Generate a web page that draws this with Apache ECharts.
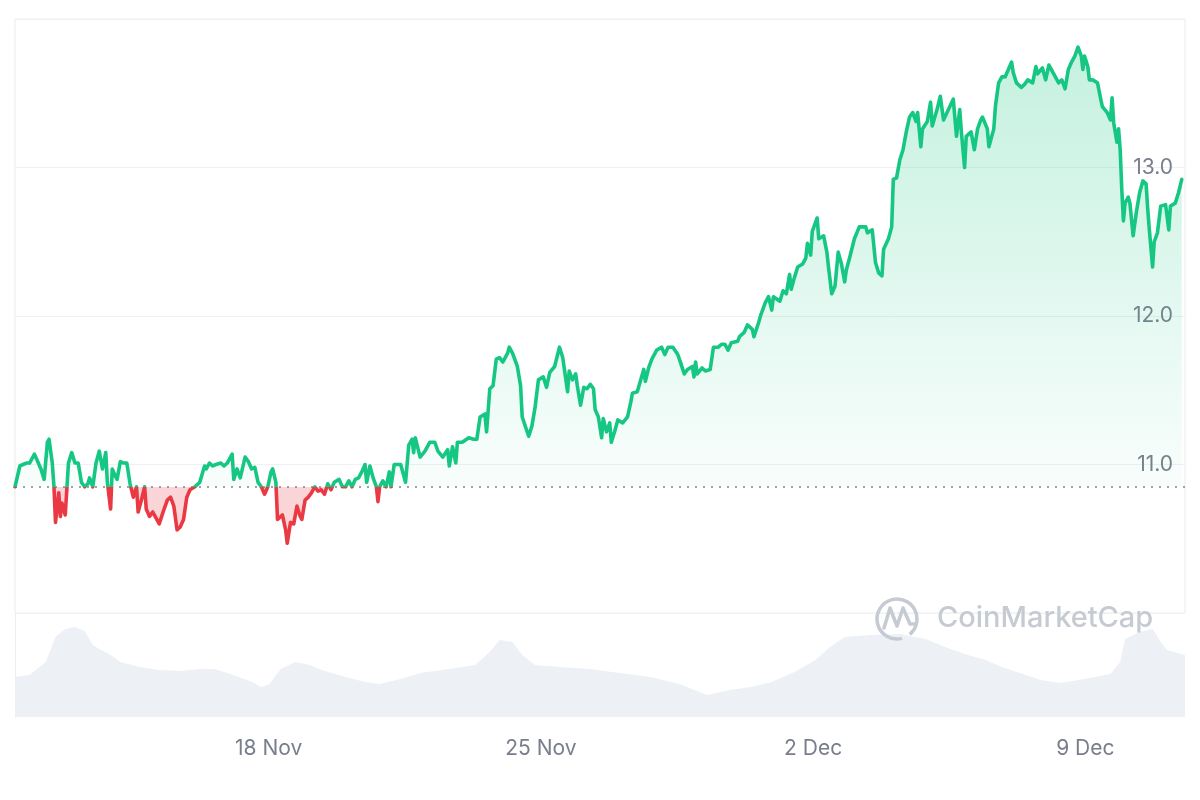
<!DOCTYPE html>
<html>
<head>
<meta charset="utf-8">
<script src="https://cdn.jsdelivr.net/npm/echarts@6/dist/echarts.min.js"></script>
<style>
html,body{margin:0;padding:0;background:#ffffff;}
#chart{width:1200px;height:800px;}
</style>
</head>
<body>
<div id="chart"></div>
<script>
// ---- data ----
const startTime = Date.UTC(2024, 10, 11, 11, 30); // first sample (hour 0)
const spanHours = 722;
// [hours since start, price USD]
const priceSeries = [
[0,10.85],[3,10.99],[5,11.00],[7,11.01],[9,11.01],[11,11.05],[12,11.07],[14,11.02],[16,10.97],[18,10.90],
[20,11.15],[21,11.17],[23,11.01],[24,10.86],[25,10.61],[27,10.81],[28,10.65],[29,10.74],[31,10.66],[33,11.01],
[35,11.08],[37,11.01],[39,11.01],[41,10.88],[43,10.85],[45,10.87],[46,10.91],[48,10.85],[50,11.01],[52,11.09],
[54,10.97],[56,11.08],[57,10.88],[59,10.70],[60,10.97],[62,10.92],[63,10.90],[65,11.02],[67,11.01],[69,11.01],
[71,10.87],[73,10.78],[75,10.85],[76,10.68],[78,10.76],[80,10.85],[81,10.70],[83,10.65],[85,10.68],[87,10.64],
[89,10.60],[92,10.70],[94,10.76],[96,10.78],[98,10.72],[100,10.56],[102,10.58],[104,10.63],[106,10.78],[108,10.83],
[111,10.85],[114,10.88],[117,10.99],[118,10.97],[120,11.01],[122,10.99],[124,11.00],[127,11.01],[129,10.99],[131,11.01],
[133,11.05],[134,11.07],[135,10.90],[137,10.97],[139,10.91],[142,11.05],[144,11.02],[146,10.97],[148,10.98],[150,10.88],
[152,10.85],[154,10.80],[156,10.85],[158,10.95],[159,10.97],[161,10.88],[162,10.63],[165,10.66],[167,10.56],[168,10.47],
[170,10.61],[172,10.60],[174,10.72],[176,10.65],[177,10.63],[179,10.76],[181,10.78],[183,10.81],[185,10.85],[187,10.82],
[189,10.83],[191,10.80],[193,10.87],[195,10.83],[197,10.88],[200,10.90],[202,10.85],[204,10.85],[206,10.89],[208,10.85],
[210,10.90],[212,10.91],[214,10.95],[216,11.00],[217,10.88],[219,10.99],[221,10.91],[223,10.85],[224,10.75],[225,10.85],
[227,10.89],[229,10.85],[231,10.95],[232,10.85],[234,11.00],[238,11.00],[241,10.88],[243,11.13],[245,11.17],[246,11.08],
[247,11.18],[250,11.05],[253,11.09],[256,11.15],[259,11.15],[261,11.09],[264,11.05],[267,11.10],[268,10.99],[270,11.12],
[272,11.01],[273,11.15],[276,11.15],[280,11.18],[283,11.17],[285,11.17],[287,11.32],[290,11.34],[291,11.22],[293,11.51],
[295,11.53],[297,11.71],[299,11.72],[301,11.69],[304,11.75],[305,11.79],[307,11.75],[310,11.66],[312,11.53],[313,11.32],
[317,11.19],[319,11.26],[321,11.39],[323,11.57],[326,11.59],[328,11.52],[330,11.62],[333,11.66],[336,11.79],[338,11.72],
[341,11.49],[342,11.63],[344,11.57],[346,11.61],[347,11.53],[349,11.40],[351,11.52],[353,11.51],[355,11.54],[357,11.51],
[358,11.37],[360,11.32],[362,11.18],[363,11.31],[365,11.22],[367,11.28],[368,11.15],[370,11.22],[372,11.30],[375,11.28],
[378,11.32],[380,11.42],[381,11.48],[384,11.49],[388,11.64],[389,11.56],[391,11.65],[393,11.71],[396,11.77],[399,11.79],
[401,11.74],[403,11.79],[406,11.79],[409,11.74],[410,11.71],[413,11.61],[415,11.64],[418,11.66],[419,11.59],[420,11.69],
[421,11.61],[424,11.65],[426,11.63],[429,11.64],[431,11.79],[434,11.79],[436,11.81],[438,11.81],[440,11.77],[442,11.82],
[446,11.83],[447,11.86],[450,11.89],[452,11.94],[455,11.91],[456,11.86],[459,11.96],[460,12.00],[463,12.09],[465,12.13],
[467,12.04],[468,12.13],[472,12.10],[474,12.17],[476,12.15],[478,12.28],[479,12.18],[481,12.26],[483,12.33],[486,12.35],
[488,12.39],[489,12.49],[491,12.41],[492,12.57],[494,12.63],[495,12.66],[496,12.52],[499,12.54],[501,12.43],[502,12.33],
[504,12.15],[506,12.20],[508,12.43],[510,12.35],[512,12.23],[513,12.31],[515,12.39],[518,12.52],[521,12.60],[525,12.60],
[526,12.56],[529,12.58],[531,12.36],[533,12.29],[535,12.27],[536,12.45],[539,12.52],[541,12.60],[542,12.92],[544,12.93],
[546,13.05],[548,13.12],[550,13.24],[552,13.34],[554,13.37],[556,13.31],[557,13.37],[559,13.14],[560,13.26],[563,13.31],
[565,13.44],[566,13.28],[569,13.39],[571,13.48],[573,13.32],[576,13.39],[579,13.46],[581,13.21],[583,13.39],[584,13.24],
[586,13.00],[587,13.21],[590,13.24],[592,13.12],[594,13.26],[596,13.32],[597,13.34],[600,13.26],[601,13.14],[604,13.26],
[605,13.41],[607,13.57],[609,13.61],[611,13.61],[613,13.66],[615,13.71],[616,13.64],[618,13.57],[621,13.54],[623,13.56],
[625,13.59],[628,13.57],[630,13.68],[631,13.63],[634,13.67],[636,13.59],[638,13.69],[641,13.63],[644,13.57],[646,13.59],
[648,13.53],[650,13.66],[652,13.71],[654,13.75],[656,13.81],[658,13.75],[659,13.66],[660,13.75],[662,13.68],[663,13.59],
[665,13.59],[668,13.57],[670,13.46],[671,13.41],[674,13.37],[676,13.32],[677,13.47],[678,13.30],[680,13.17],[681,13.26],
[682,13.12],[683,12.85],[684,12.64],[685,12.76],[687,12.80],[688,12.76],[690,12.54],[692,12.70],[694,12.83],[696,12.91],
[698,12.89],[699,12.72],[700,12.58],[702,12.33],[703,12.50],[705,12.56],[707,12.74],[710,12.75],[712,12.58],[713,12.74],
[716,12.76],[718,12.83],[720,12.92]
];
// [hours since start, volume (M USD)]
const volumeSeries = [
[0,40],[9,42],[19,55],[25,80],[31,88],[37,90],[43,86],[48,72],[52,68],[59,62],[65,55],[77,50],[89,47],[102,46],
[114,48],[123,48],[133,43],[145,36],[152,30],[157,33],[164,48],[173,55],[182,52],[191,46],[204,40],[216,35],
[225,33],[238,38],[250,44],[268,48],[284,52],[293,65],[299,77],[307,75],[313,62],[321,52],[336,50],[355,48],
[373,44],[392,40],[410,33],[427,22],[441,27],[454,30],[467,35],[481,45],[494,57],[503,70],[512,80],[528,82],
[546,83],[562,78],[574,70],[586,63],[599,57],[609,50],[620,44],[633,37],[645,34],[660,38],[676,43],[682,55],
[685,78],[694,85],[702,88],[707,75],[711,67],[722,62]
];
const tickDates = [Date.UTC(2024,10,18), Date.UTC(2024,10,25), Date.UTC(2024,11,2), Date.UTC(2024,11,9)];
const tickLabels = ['18 Nov', '25 Nov', '2 Dec', '9 Dec'];
const priceLabels = [11, 12, 13];

// ---- chart ----
const HOUR = 3600000;
const GREEN = '#16c784', RED = '#ea3943';
const baseline = priceSeries[0][1];
const tickHours = tickDates.map(t => (t - startTime) / HOUR);
const pMax = Math.max(...priceSeries.map(p => p[1]));
const pMin = Math.min(...priceSeries.map(p => p[1]));
const f = (pMax - baseline) / (pMax - pMin);

const chart = echarts.init(document.getElementById('chart'), null, {renderer: 'canvas'});
const FONT = 'Inter, "Liberation Sans", Arial, sans-serif';

chart.setOption({
  animation: false,
  backgroundColor: '#ffffff',
  textStyle: {fontFamily: FONT},
  grid: [
    {left: 15, right: 15, top: 19, bottom: 187, show: true, borderColor: '#eaecef', borderWidth: 1},
    {left: 15, right: 15, top: 613, bottom: 83}
  ],
  xAxis: [
    {type: 'value', gridIndex: 0, min: 0, max: spanHours, axisLine: {show: false}, axisTick: {show: false},
     axisLabel: {show: false}, splitLine: {show: false}},
    {type: 'value', gridIndex: 1, min: 0, max: spanHours, axisLine: {show: false}, axisTick: {show: false},
     splitLine: {show: false},
     axisLabel: {customValues: tickHours, margin: 21, color: '#787e8b', fontSize: 21, fontFamily: FONT,
       formatter: v => { const i = tickHours.findIndex(t => Math.abs(t - v) < 0.01); return i >= 0 ? tickLabels[i] : ''; }}}
  ],
  yAxis: [
    {type: 'value', gridIndex: 0, position: 'right', min: 10, max: 14, interval: 1,
     axisLine: {show: false}, axisTick: {show: false},
     splitLine: {lineStyle: {color: '#eff1f4', width: 1}},
     axisLabel: {inside: true, margin: 12, color: '#787e8b', fontSize: 21, fontFamily: FONT,
       formatter: v => priceLabels.indexOf(v) >= 0 ? v.toFixed(1) : ''}},
    {type: 'value', gridIndex: 1, position: 'right', min: 0, max: 104,
     axisLine: {show: true, lineStyle: {color: '#eceef1'}}, axisTick: {show: false},
     axisLabel: {show: false}, splitLine: {show: false}},
    {type: 'value', gridIndex: 1, position: 'left', min: 0, max: 104,
     axisLine: {show: true, lineStyle: {color: '#eceef1'}}, axisTick: {show: false},
     axisLabel: {show: false}, splitLine: {show: false}}
  ],
  visualMap: {
    show: false, type: 'piecewise', seriesIndex: 0, dimension: 1,
    pieces: [{gte: 0, lt: baseline, color: RED}, {gte: baseline, lte: 1000, color: GREEN}]
  },
  series: [
    {
      name: 'Price', type: 'line', xAxisIndex: 0, yAxisIndex: 0, data: priceSeries,
      showSymbol: false, symbol: 'none', z: 5,
      lineStyle: {width: 3.6, join: 'round', cap: 'round'},
      areaStyle: {
        origin: baseline,
        color: new echarts.graphic.LinearGradient(0, 0, 0, 1, [
          {offset: 0, color: 'rgba(22,199,132,0.36)'},
          {offset: f, color: 'rgba(22,199,132,0.04)'},
          {offset: f, color: 'rgba(234,57,67,0.3)'},
          {offset: 1, color: 'rgba(234,57,67,0.3)'}
        ])
      },
      markLine: {
        silent: true, symbol: 'none', label: {show: false},
        lineStyle: {color: '#80858e', type: [2, 6], width: 1.6},
        data: [{yAxis: baseline}]
      }
    },
    {
      name: 'Volume', type: 'line', xAxisIndex: 1, yAxisIndex: 1, data: volumeSeries,
      showSymbol: false, symbol: 'none', z: 1,
      lineStyle: {width: 0, color: '#edf0f5'},
      itemStyle: {color: '#edf0f5'},
      areaStyle: {color: '#edf0f5', opacity: 1}
    }
  ],
  graphic: [
    {type: 'arc', z: 50, shape: {cx: 897, cy: 619, r: 20, startAngle: Math.PI * 0.42, endAngle: Math.PI * 2.28},
     style: {stroke: '#c6cbd3', lineWidth: 3.5, fill: null}},
    {type: 'polyline', z: 50, shape: {points: [[884,628],[890,608],[897,626],[903,608],[910,624],[915,624]]},
     style: {stroke: '#c6cbd3', lineWidth: 3.5, fill: null, lineJoin: 'round', lineCap: 'round'}},
    {type: 'text', z: 50, left: 937, top: 604,
     style: {text: 'CoinMarketCap', fill: '#c6cbd3', font: '500 29px Inter, "Open Sans", sans-serif'}}
  ]
});
</script>
</body>
</html>
